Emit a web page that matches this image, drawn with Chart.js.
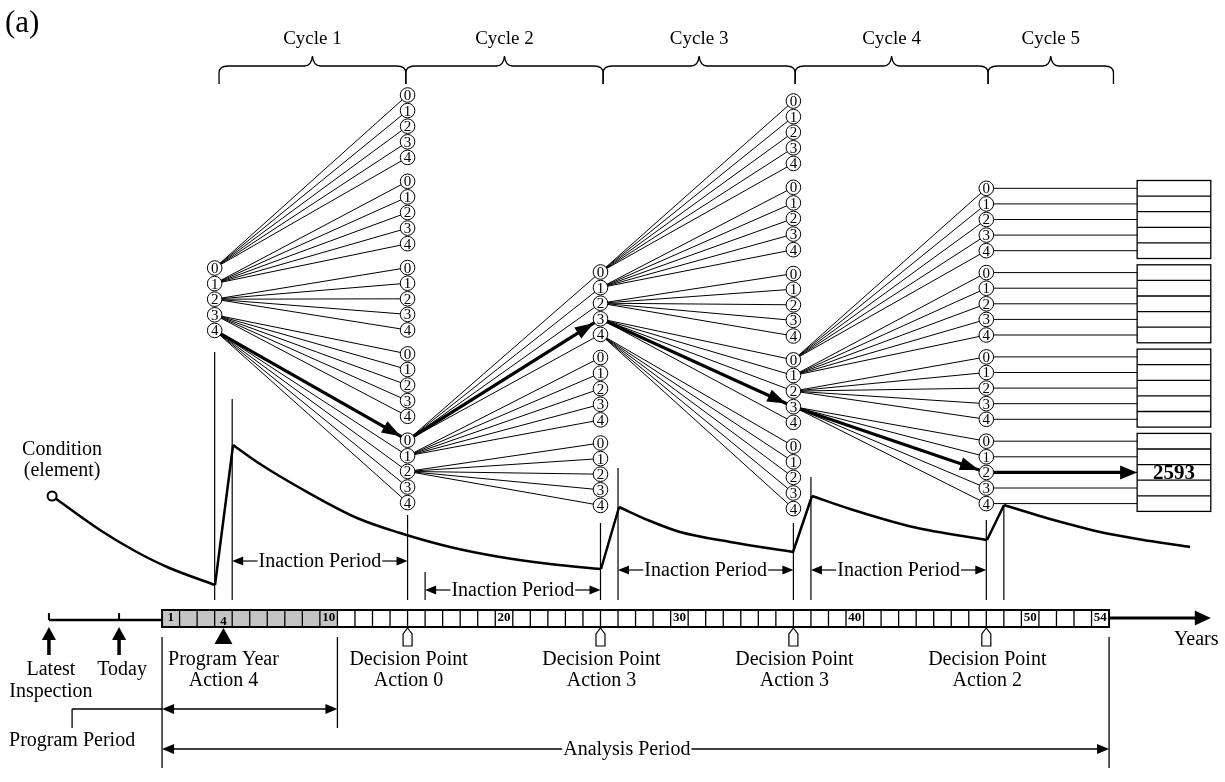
<!DOCTYPE html>
<html>
<head>
<meta charset="utf-8">
<script src="https://cdn.jsdelivr.net/npm/chart.js@4.4.1/dist/chart.umd.min.js"></script>
<style>
    html, body { margin: 0; padding: 0; background: #fff; }
    #wrap { width: 1225px; height: 782px; }
</style>
</head>
<body>
<div id="wrap"><canvas id="treeChart" width="1225" height="782"></canvas></div>
<script>
// Values. x = analysis year (0 = start of box 1)
const analysisYears = 54;
const programYears = 10;
const programActionYear = 4;
const latestInspectionYear = -6.45;
const todayYear = -2.45;
const decisionYears = [3, 14, 25, 36, 47];
const pathActions = [4, 0, 3, 3, 2];
const expandedActions = [[0, 1, 2, 3, 4], [0, 1, 2], [0, 1, 2, 3, 4], [0, 1, 2, 3]];
const actionLabels = ['0', '1', '2', '3', '4'];
const cycleLabels = ['Cycle 1', 'Cycle 2', 'Cycle 3', 'Cycle 4', 'Cycle 5'];
const cycleEdges = [3.25, 13.9, 25.15, 36.1, 47.1, 54.25];
const yearTickLabels = ['1', '4', '10', '20', '30', '40', '50', '54'];
const bestScore = '2593';

// condition of the element between treatments: [year, level] (level in diagram units, down = worse)
const deterioration = [
    [[-6.27, 496], [-3.54, 530], [-1.65, 550], [0.29, 567], [3.02, 585]],
    [[4.05, 445], [5.59, 464], [7.87, 488], [11.12, 518], [13.57, 533], [16.42, 547], [19.27, 557], [22.12, 564], [25.03, 569]],
    [[26.06, 507], [27.83, 521], [29.54, 532], [32.39, 542], [35.98, 552]],
    [[37.06, 496], [39.23, 509], [42.82, 527], [47.04, 540]],
    [[48.01, 505], [50.64, 519], [53.49, 532], [56.34, 541], [58.62, 547]]
];

// layout only
const FONT = '"Liberation Serif", "Times New Roman", serif';
const LAYOUT = {
    xMin: -9.24,
    xMax: 60.61,
    nodeStep: 15.6,
    nodeRadius: 7.3,
    columns: [
        { top: 95, gap: 86.5, rootGroup: 2 },
        { top: 95, gap: 86.3, groupShift: 0 },
        { top: 101, gap: 85.5, groupShift: 2 },
        { top: 101, gap: 86.3, groupShift: 0 },
        { top: 104, gap: 84.3, groupShift: 1 }
    ],
    boxLeft: 55.6,
    boxRight: 59.8,
    guideTop: [352, 515, 523, 523, 520],
    treatedGuideTop: [399, 572, 468, 477, 507],
    guideBottom: 600,
    inactionRows: [561, 590, 570, 570],
    timeline: { top: 610, bottom: 627, lineY: 620, arrowY: 618, arrowEnd: 59.8 },
    brace: { end: 84, bar: 66, tip: 56, label: 44 }
};

const gap = () => ({ x: NaN, y: NaN });

function nodeY(col, group, action) {
    const c = LAYOUT.columns[col];
    return c.top + group * c.gap + action * LAYOUT.nodeStep;
}

function buildTree() {
    const cols = LAYOUT.columns;
    const nodes = [];
    const fans = [];
    const path = [];
    const lastGroups = [];
    let srcGroup = cols[0].rootGroup;

    actionLabels.forEach((label, a) => nodes.push({ x: decisionYears[0], y: nodeY(0, srcGroup, a), label }));
    path.push({ x: decisionYears[0], y: nodeY(0, srcGroup, pathActions[0]) });

    expandedActions.forEach((acts, k) => {
        const shift = cols[k + 1].groupShift;
        acts.forEach(a => {
            const from = { x: decisionYears[k], y: nodeY(k, srcGroup, a) };
            actionLabels.forEach((label, b) => {
                const to = { x: decisionYears[k + 1], y: nodeY(k + 1, a + shift, b), label };
                nodes.push(to);
                fans.push({ ...from }, { x: to.x, y: to.y }, gap());
            });
            if (k === expandedActions.length - 1) lastGroups.push(a + shift);
        });
        srcGroup = pathActions[k] + shift;
        path.push({ x: decisionYears[k + 1], y: nodeY(k + 1, srcGroup, pathActions[k + 1]) });
    });

    // last decision column runs on to the result boxes
    nodes.filter(n => n.x === decisionYears[decisionYears.length - 1]).forEach(n => {
        fans.push({ x: n.x, y: n.y }, { x: LAYOUT.boxLeft, y: n.y }, gap());
    });

    return { nodes, fans, path, lastGroups };
}

const tree = buildTree();

function line(ctx, x1, y1, x2, y2) {
    ctx.beginPath();
    ctx.moveTo(x1, y1);
    ctx.lineTo(x2, y2);
    ctx.stroke();
}

function arrowHead(ctx, x1, y1, x2, y2, len, half) {
    const a = Math.atan2(y2 - y1, x2 - x1);
    ctx.beginPath();
    ctx.moveTo(x2, y2);
    ctx.lineTo(x2 - len * Math.cos(a) + half * Math.sin(a), y2 - len * Math.sin(a) - half * Math.cos(a));
    ctx.lineTo(x2 - len * Math.cos(a) - half * Math.sin(a), y2 - len * Math.sin(a) + half * Math.cos(a));
    ctx.closePath();
    ctx.fill();
}

function text(ctx, str, x, y, size, opts = {}) {
    ctx.font = `${opts.bold ? 'bold ' : ''}${size}px ${FONT}`;
    ctx.textAlign = opts.align || 'center';
    ctx.textBaseline = opts.baseline || 'alphabetic';
    ctx.fillText(str, x, y);
}

function brace(ctx, x1, x2, b) {
    const m = (x1 + x2) / 2;
    ctx.beginPath();
    ctx.moveTo(x1, b.end);
    ctx.lineTo(x1, b.bar + 7);
    ctx.quadraticCurveTo(x1, b.bar, x1 + 9, b.bar);
    ctx.lineTo(m - 8, b.bar);
    ctx.quadraticCurveTo(m - 1, b.bar, m, b.tip);
    ctx.quadraticCurveTo(m + 1, b.bar, m + 8, b.bar);
    ctx.lineTo(x2 - 9, b.bar);
    ctx.quadraticCurveTo(x2, b.bar, x2, b.bar + 7);
    ctx.lineTo(x2, b.end);
    ctx.stroke();
}

const figureDecor = {
    id: 'figureDecor',
    afterDatasetsDraw(chart) {
        const ctx = chart.ctx;
        const X = v => chart.scales.x.getPixelForValue(v);
        const Y = v => chart.scales.y.getPixelForValue(v);
        const r = LAYOUT.nodeRadius;
        ctx.save();
        ctx.fillStyle = '#000';
        ctx.strokeStyle = '#000';

        // digits inside the action nodes
        tree.nodes.forEach(n => text(ctx, n.label, X(n.x), Y(n.y) + 1, 15, { baseline: 'middle' }));

        // arrow heads along the chosen path
        for (let i = 1; i < tree.path.length; i++) {
            const a = tree.path[i - 1], b = tree.path[i];
            const x1 = X(a.x), y1 = Y(a.y), x2 = X(b.x), y2 = Y(b.y);
            const d = Math.hypot(x2 - x1, y2 - y1);
            arrowHead(ctx, x1, y1, x2 - (x2 - x1) / d * (r + 0.5), y2 - (y2 - y1) / d * (r + 0.5), 19, 6.5);
        }
        const last = tree.path[tree.path.length - 1];
        arrowHead(ctx, X(last.x), Y(last.y), X(LAYOUT.boxLeft), Y(last.y), 17, 7);

        // result boxes
        ctx.lineWidth = 1.3;
        tree.lastGroups.forEach(g => {
            const top = Y(nodeY(4, g, 0) - LAYOUT.nodeStep / 2);
            const h = Y(nodeY(4, g, 0) + LAYOUT.nodeStep / 2) - Y(nodeY(4, g, 0) - LAYOUT.nodeStep / 2);
            const x0 = X(LAYOUT.boxLeft), x1 = X(LAYOUT.boxRight);
            ctx.strokeRect(x0, top, x1 - x0, h * actionLabels.length);
            for (let i = 1; i < actionLabels.length; i++) line(ctx, x0, top + h * i, x1, top + h * i);
        });
        text(ctx, bestScore, X((LAYOUT.boxLeft + LAYOUT.boxRight) / 2), Y(last.y) + 7, 21, { bold: true });

        // cycles
        const b = LAYOUT.brace;
        ctx.lineWidth = 1.3;
        cycleLabels.forEach((label, i) => {
            const x1 = X(cycleEdges[i]), x2 = X(cycleEdges[i + 1]);
            brace(ctx, x1, x2, { end: Y(b.end), bar: Y(b.bar), tip: Y(b.tip) });
            text(ctx, label, (x1 + x2) / 2, Y(b.label), 19);
        });

        // inaction periods: from the year after a treatment to the next decision
        ctx.lineWidth = 1.2;
        for (let i = 0; i < decisionYears.length - 1; i++) {
            const xs = X(decisionYears[i] + 1), xe = X(decisionYears[i + 1]);
            const y = Y(LAYOUT.inactionRows[i]);
            const mid = (xs + xe) / 2;
            ctx.font = `20px ${FONT}`;
            const w = ctx.measureText('Inaction Period').width / 2 + 1;
            line(ctx, xs + 4, y, mid - w, y);
            line(ctx, mid + w, y, xe - 4, y);
            arrowHead(ctx, mid - w, y, xs, y, 11, 4.5);
            arrowHead(ctx, mid + w, y, xe, y, 11, 4.5);
            text(ctx, 'Inaction Period', mid, y + 6, 20);
        }

        // timeline
        const T = LAYOUT.timeline;
        ctx.lineWidth = 2.5;
        line(ctx, X(latestInspectionYear), Y(T.lineY), X(0), Y(T.lineY));
        [latestInspectionYear, todayYear].forEach(yr => {
            const x = X(yr);
            ctx.lineWidth = 2;
            line(ctx, x, Y(613), x, Y(T.lineY));
            ctx.lineWidth = 3.5;
            line(ctx, x, Y(655), x, Y(636));
            arrowHead(ctx, x, Y(655), x, Y(627), 13, 7);
        });
        for (let n = 1; n <= analysisYears; n++) {
            const x0 = X(n - 1), x1 = X(n);
            ctx.fillStyle = n <= programYears ? '#c4c4c4' : '#fff';
            ctx.fillRect(x0, Y(T.top), x1 - x0, Y(T.bottom) - Y(T.top));
        }
        ctx.fillStyle = '#000';
        ctx.lineWidth = 1.3;
        for (let n = 1; n < analysisYears; n++) line(ctx, X(n), Y(T.top), X(n), Y(T.bottom));
        ctx.lineWidth = 2;
        ctx.strokeRect(X(0), Y(T.top), X(analysisYears) - X(0), Y(T.bottom) - Y(T.top));
        yearTickLabels.forEach(lbl => {
            const n = Number(lbl);
            const y = n === programActionYear ? Y(622) : Y(618);
            text(ctx, lbl, X(n - 0.5), y, 13, { bold: true, baseline: 'middle' });
        });
        ctx.lineWidth = 3;
        line(ctx, X(analysisYears), Y(T.arrowY), X(T.arrowEnd) - 12, Y(T.arrowY));
        arrowHead(ctx, X(analysisYears), Y(T.arrowY), X(T.arrowEnd), Y(T.arrowY), 16, 7.5);
        text(ctx, 'Years', X(58.97), Y(645), 20);

        // program year marker and decision points
        const xp = X(programActionYear - 0.5);
        ctx.beginPath();
        ctx.moveTo(xp, Y(628));
        ctx.lineTo(xp + 9, Y(644));
        ctx.lineTo(xp - 9, Y(644));
        ctx.closePath();
        ctx.fill();
        ctx.lineWidth = 1.2;
        decisionYears.slice(1).forEach((yr, i) => {
            const x = X(yr);
            ctx.beginPath();
            ctx.moveTo(x, Y(628));
            ctx.lineTo(x + 4.5, Y(634));
            ctx.lineTo(x + 4.5, Y(646));
            ctx.lineTo(x - 4.5, Y(646));
            ctx.lineTo(x - 4.5, Y(634));
            ctx.closePath();
            ctx.fillStyle = '#fff';
            ctx.fill();
            ctx.stroke();
            ctx.fillStyle = '#000';
            text(ctx, 'Decision Point', x + 1, Y(665), 20);
            text(ctx, 'Action ' + pathActions[i + 1], x + 1, Y(686), 20);
        });

        text(ctx, 'Latest', X(latestInspectionYear) + 2, Y(675), 20);
        text(ctx, 'Inspection', X(latestInspectionYear) + 2, Y(697), 20);
        text(ctx, 'Today', X(todayYear) + 3, Y(675), 20);
        text(ctx, 'Program Year', xp, Y(665), 20);
        text(ctx, 'Action ' + pathActions[0], xp, Y(686), 20);

        // program and analysis periods
        ctx.lineWidth = 1.3;
        line(ctx, X(0), Y(637), X(0), Y(768));
        line(ctx, X(programYears), Y(637), X(programYears), Y(728));
        line(ctx, X(analysisYears), Y(637), X(analysisYears), Y(768));
        line(ctx, X(0) + 8, Y(709), X(programYears) - 8, Y(709));
        arrowHead(ctx, X(programYears) / 2 + X(0) / 2, Y(709), X(0), Y(709), 12, 5);
        arrowHead(ctx, X(0), Y(709), X(programYears), Y(709), 12, 5);
        line(ctx, X(-5.13), Y(709), X(0), Y(709));
        line(ctx, X(-5.13), Y(709), X(-5.13), Y(728));
        text(ctx, 'Program Period', X(-5.13), Y(746), 20);

        ctx.font = `20px ${FONT}`;
        const aw = ctx.measureText('Analysis Period').width / 2 + 1;
        const am = X(26.5);
        line(ctx, X(0) + 8, Y(749), am - aw, Y(749));
        line(ctx, am + aw, Y(749), X(analysisYears) - 8, Y(749));
        arrowHead(ctx, am, Y(749), X(0), Y(749), 12, 5);
        arrowHead(ctx, am, Y(749), X(analysisYears), Y(749), 12, 5);
        text(ctx, 'Analysis Period', am, Y(755), 20);

        // condition label and panel tag
        text(ctx, 'Condition', X(-5.7), Y(455), 20);
        text(ctx, '(element)', X(-5.7), Y(476), 20);
        text(ctx, '(a)', 5, 32, 31, { align: 'left' });

        ctx.restore();
    }
};

function conditionDatasets() {
    const sets = deterioration.map((seg, i) => ({
        data: seg.map(([x, y]) => ({ x, y })),
        borderColor: '#000',
        borderWidth: 2.5,
        cubicInterpolationMode: 'monotone',
        pointRadius: seg.map((_, j) => (i === 0 && j === 0 ? 4.5 : 0)),
        pointBackgroundColor: '#fff',
        pointBorderColor: '#000',
        pointBorderWidth: 2,
        order: 1
    }));
    const jumps = [];
    for (let i = 1; i < deterioration.length; i++) {
        const a = deterioration[i - 1][deterioration[i - 1].length - 1];
        const b = deterioration[i][0];
        jumps.push({ x: a[0], y: a[1] }, { x: b[0], y: b[1] }, gap());
    }
    sets.push({ data: jumps, borderColor: '#000', borderWidth: 2.5, pointRadius: 0, order: 1 });
    return sets;
}

function guideDataset() {
    const pts = [];
    decisionYears.forEach((yr, i) => {
        pts.push({ x: yr, y: LAYOUT.guideTop[i] }, { x: yr, y: LAYOUT.guideBottom }, gap());
        pts.push({ x: yr + 1, y: LAYOUT.treatedGuideTop[i] }, { x: yr + 1, y: LAYOUT.guideBottom }, gap());
    });
    return { data: pts, borderColor: '#000', borderWidth: 1.2, pointRadius: 0, order: 3 };
}

const pathLine = tree.path.concat([{ x: LAYOUT.boxLeft - 0.5, y: tree.path[tree.path.length - 1].y }]);

new Chart(document.getElementById('treeChart'), {
    type: 'line',
    data: {
        datasets: [
            {
                data: tree.nodes.map(n => ({ x: n.x, y: n.y })),
                showLine: false,
                pointRadius: LAYOUT.nodeRadius,
                pointBackgroundColor: '#fff',
                pointBorderColor: '#000',
                pointBorderWidth: 1,
                order: 0
            },
            { data: tree.fans, borderColor: '#000', borderWidth: 1, pointRadius: 0, order: 3 },
            { data: pathLine, borderColor: '#000', borderWidth: 3.2, pointRadius: 0, order: 2 },
            ...conditionDatasets(),
            guideDataset()
        ]
    },
    options: {
        responsive: false,
        animation: false,
        events: [],
        layout: { padding: 0, autoPadding: false },
        plugins: { legend: { display: false }, tooltip: { enabled: false } },
        elements: { line: { tension: 0, borderCapStyle: 'butt' } },
        scales: {
            x: { type: 'linear', min: LAYOUT.xMin, max: LAYOUT.xMax, display: false },
            y: { type: 'linear', min: 0, max: 782, reverse: true, display: false }
        }
    },
    plugins: [figureDecor]
});
</script>
</body>
</html>
